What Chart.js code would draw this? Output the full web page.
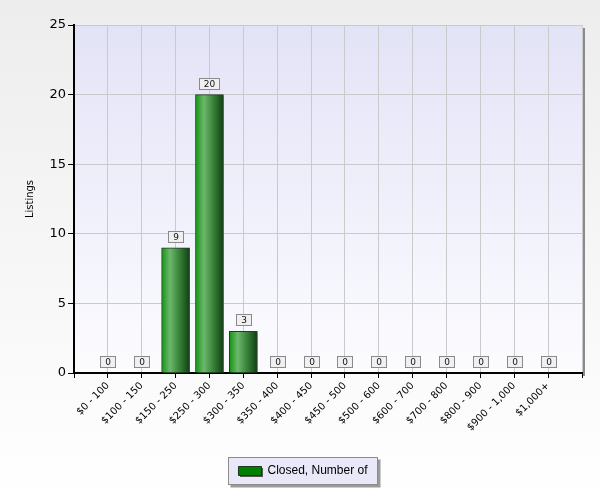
<!DOCTYPE html>
<html>
<head>
<meta charset="utf-8">
<script src="https://cdn.jsdelivr.net/npm/chart.js@4.4.0/dist/chart.umd.min.js"></script>
<style>
  html, body { margin: 0; padding: 0; }
  body { width: 600px; height: 500px; background: linear-gradient(#ededed, #ffffff); }
</style>
</head>
<body>
<canvas id="listingsChart" width="600" height="500"></canvas>
<script>
const priceRanges = ["$0 - 100", "$100 - 150", "$150 - 250", "$250 - 300", "$300 - 350", "$350 - 400",
  "$400 - 450", "$450 - 500", "$500 - 600", "$600 - 700", "$700 - 800", "$800 - 900",
  "$900 - 1,000", "$1,000+"];
const closedCounts = [0, 0, 9, 20, 3, 0, 0, 0, 0, 0, 0, 0, 0, 0];
const yMax = 25;
const yStep = 5;

// bars sit on slots 1..n of a 0..n+1 axis, like the original
const points = closedCounts.map((v, i) => ({ x: i + 1, y: v }));

function barGradient(ctx) {
  const chart = ctx.chart;
  const xs = chart.scales.x;
  if (!xs || ctx.dataIndex === undefined) return "#1a8a1a";
  const cx = xs.getPixelForValue(ctx.dataIndex + 1);
  if (!isFinite(cx)) return "#1a8a1a";
  const g = chart.ctx.createLinearGradient(cx - 14, 0, cx + 14, 0);
  g.addColorStop(0, "#129412");
  g.addColorStop(0.3, "#6db86d");
  g.addColorStop(0.6, "#3d883d");
  g.addColorStop(1, "#0e4012");
  return g;
}

// plot background, frame shadow and legend box
const plotBackground = {
  id: "plotBackground",
  beforeDraw(chart) {
    const { ctx, chartArea: a } = chart;
    ctx.save();
    ctx.fillStyle = "#8a8a8a";
    ctx.fillRect(a.right, a.top + 3, 3, a.bottom - a.top);
    const g = ctx.createLinearGradient(0, a.top, 0, a.bottom);
    g.addColorStop(0, "#e3e3f7");
    g.addColorStop(1, "#fcfcff");
    ctx.fillStyle = g;
    ctx.fillRect(a.left, a.top, a.right - a.left, a.bottom - a.top);

    const hb = chart.legend && chart.legend.legendHitBoxes && chart.legend.legendHitBoxes[0];
    if (hb) {
      const x = Math.round(hb.left - 10) + 0.5;
      const y = Math.round(hb.top - 8) + 0.5;
      const w = Math.round(hb.width + 20);
      const h = 27;
      ctx.fillStyle = "#9a9a9a";
      ctx.fillRect(x + 2, y + 2, w + 1, h + 1);
      ctx.fillStyle = "#e8e8f8";
      ctx.fillRect(x, y, w, h);
      ctx.strokeStyle = "#8c8c8c";
      ctx.lineWidth = 1;
      ctx.strokeRect(x, y, w, h);
      // little shadow under the swatch
      ctx.fillStyle = "#555";
      ctx.fillRect(Math.round(hb.left) + 2, Math.round(hb.top) + 3, 23, 9);
    }
    ctx.restore();
  }
};

const barShadow = {
  id: "barShadow",
  beforeDatasetsDraw(chart) {
    const c = chart.ctx;
    c.save();
    c.shadowColor = "rgba(70,70,70,0.55)";
    c.shadowOffsetX = 3;
    c.shadowOffsetY = 2;
    c.shadowBlur = 2;
  },
  afterDatasetsDraw(chart) {
    const c = chart.ctx;
    c.restore();
    // value boxes above each bar
    const meta = chart.getDatasetMeta(0);
    c.save();
    c.font = '9px "DejaVu Sans"';
    c.textAlign = "center";
    c.textBaseline = "middle";
    c.lineWidth = 1;
    meta.data.forEach((bar, i) => {
      const txt = String(closedCounts[i]);
      const w = Math.round(c.measureText(txt).width + 9);
      const h = 11;
      const x = Math.round(bar.x - w / 2) + 0.5;
      const y = Math.round(bar.y - 6 - h) + 0.5;
      c.fillStyle = "#f0f0f0";
      c.fillRect(x, y, w, h);
      c.strokeStyle = "#8a8a8a";
      c.strokeRect(x, y, w, h);
      c.fillStyle = "#111";
      c.fillText(txt, x + w / 2, y + h / 2 + 0.5);
    });
    c.restore();
  }
};

new Chart(document.getElementById("listingsChart").getContext("2d"), {
  type: "bar",
  data: {
    datasets: [
      {
        label: "Closed, Number of",
        data: points,
        backgroundColor: barGradient,
        borderColor: "#1f3d1f",
        borderWidth: 1,
        barThickness: 28,
      },
    ],
  },
  options: {
    responsive: false,
    animation: false,
    layout: { padding: { left: 24, right: 18, top: 25, bottom: 13 } },
    plugins: {
      tooltip: { enabled: false },
      legend: {
        position: "bottom",
        labels: {
          boxWidth: 23,
          boxHeight: 9,
          padding: 10,
          color: "#1a1a33",
          font: { family: "Liberation Sans", size: 12 },
          generateLabels: () => [
            { text: "Closed, Number of", fillStyle: "#008000", strokeStyle: "#1a3a1a", lineWidth: 1, datasetIndex: 0 },
          ],
        },
      },
    },
    scales: {
      x: {
        type: "linear",
        min: 0,
        max: priceRanges.length + 1,
        offset: false,
        ticks: {
          stepSize: 1,
          autoSkip: false,
          minRotation: 45,
          maxRotation: 45,
          padding: 2,
          color: "#000",
          font: { family: "DejaVu Sans", size: 10 },
          callback: (v) => priceRanges[v - 1] || "",
        },
        grid: { color: "#cacaca", offset: false, tickLength: 5, tickColor: "#000" },
        border: { color: "#000", width: 2 },
        afterFit: (s) => { s.height = 82; },
      },
      y: {
        min: 0,
        max: yMax,
        ticks: {
          stepSize: yStep,
          padding: 2,
          color: "#000",
          font: { family: "DejaVu Sans", size: 13 },
        },
        grid: { color: "#cacaca", tickLength: 6, tickColor: "#000" },
        border: { color: "#000", width: 2 },
        title: {
          display: true,
          text: "Listings",
          color: "#000",
          padding: 0,
          font: { family: "DejaVu Sans", size: 10 },
        },
        afterFit: (s) => { s.width = 50; },
      },
    },
  },
  plugins: [plotBackground, barShadow],
});
</script>
</body>
</html>
